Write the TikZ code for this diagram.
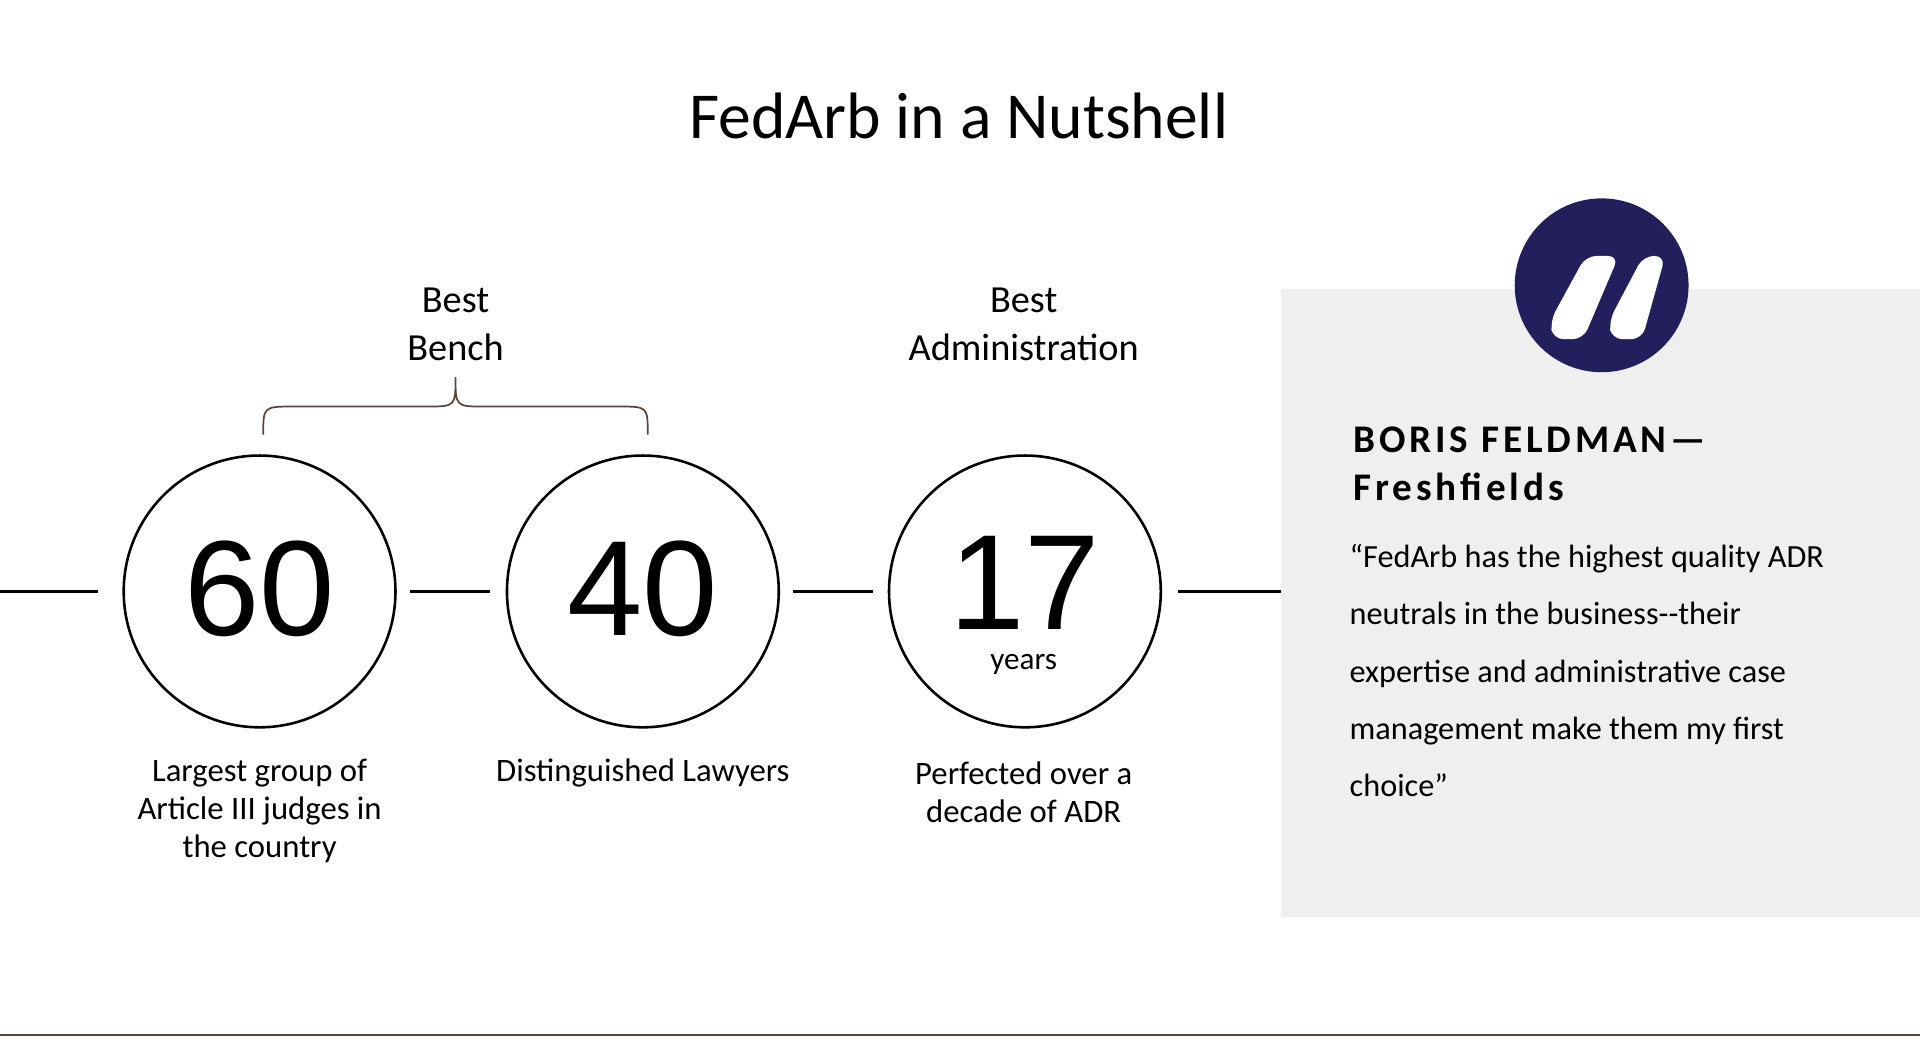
\documentclass[tikz,border=0pt]{standalone}
\usepackage{fontspec}
\setmainfont{Carlito}
\newfontfamily\arialf{Liberation Sans}
\definecolor{navy}{HTML}{231F5C}
\definecolor{panel}{HTML}{EFEFEF}
\definecolor{bracec}{HTML}{5A4636}
\begin{document}
\begin{tikzpicture}[x=0.02cm,y=-0.02cm,
  ring/.style={circle,draw,line width=1.2pt,minimum size=4.44cm,inner sep=0pt},
  num/.style={font=\arialf\fontsize{63}{63}\selectfont},
  lab/.style={align=center,font=\fontsize{15.2}{17.6}\selectfont},
  head/.style={align=center,font=\fontsize{17.8}{22}\selectfont},
  conn/.style={line width=1.7pt}]
\useasboundingbox (0,0) rectangle (1568,847);
\fill[white] (0,0) rectangle (1568,847);
\fill[panel] (1046,236) rectangle (1568,749);
\node[font=\fontsize{30.5}{33}\selectfont] (title) at (783,95) {FedArb in a Nutshell};
\node[ring] (c1) at (212,483) {};
\node[ring] (c2) at (525,483) {};
\node[ring] (c3) at (837,483) {};
\node[num] (n1) at (212,481) {60};
\node[num] (n2) at (525,481) {40};
\node[num] (n3) at (837,476) {17};
\node[font=\fontsize{14.5}{16}\selectfont] (yrs) at (836,543) {years};
\coordinate (l0) at (0,483); \coordinate (l1) at (80,483);
\coordinate (m0) at (335,483); \coordinate (m1) at (400,483);
\coordinate (k0) at (648,483); \coordinate (k1) at (713,483);
\coordinate (p0) at (962,483); \coordinate (p1) at (1046,483);
\draw[conn] (l0)--(l1); \draw[conn] (m0)--(m1); \draw[conn] (k0)--(k1); \draw[conn] (p0)--(p1);
\node[lab] (t1) at (212,662) {Largest group of\\Article III judges in\\the country};
\node[lab] (t2) at (525,631) {Distinguished Lawyers};
\node[lab] (t3) at (836,647) {Perfected over a\\decade of ADR};
\node[head] (h1) at (372,265) {Best\\Bench};
\node[head] (h2) at (836,265) {Best\\Administration};
\coordinate (b0) at (215,355); \coordinate (b1) at (372,308); \coordinate (b2) at (529,355);
\draw[bracec,line width=0.8pt] (b0) .. controls (215,332) .. (240,332) -- (348,332) .. controls (372,332) .. (b1) .. controls (372,332) .. (396,332) -- (505,332) .. controls (529,332) .. (b2);
\node[circle,fill=navy,minimum size=2.84cm,inner sep=0pt] (qc) at (1308,233) {};
\fill[white,rounded corners=5pt] (1295,209) -- (1322,209) -- (1293,277) -- (1268,277) -- (1266,262) -- cycle;
\fill[white,rounded corners=5pt] (1342,209) -- (1360,209) -- (1341,277) -- (1316,277) -- (1314,262) -- cycle;
\node[anchor=west,align=left,font=\bfseries\fontsize{18.2}{22.5}\selectfont\addfontfeatures{LetterSpace=10}] (who) at (1099,379) {BORIS FELDMAN—\\Freshfields};
\node[anchor=north west,align=left,font=\fontsize{15}{26.7}\selectfont] (q) at (1096,438) {“FedArb has the highest quality ADR\\neutrals in the business-{}-their\\expertise and administrative case\\management make them my first\\choice”};
\coordinate (e0) at (0,845); \coordinate (e1) at (1568,845);
\draw[bracec,line width=1pt] (e0)--(e1);
\end{tikzpicture}
\end{document}
